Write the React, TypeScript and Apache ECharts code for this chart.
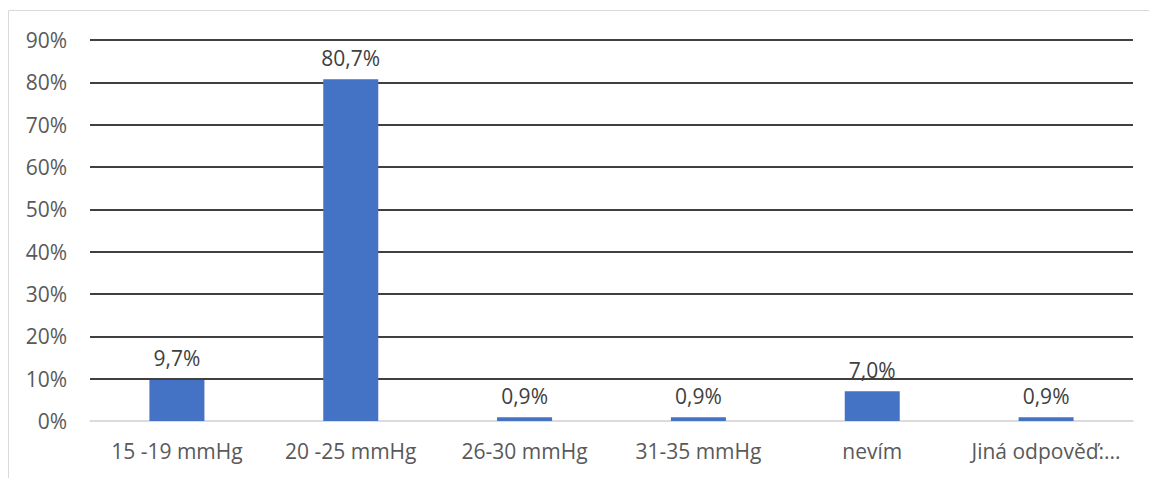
import React, { useEffect, useRef } from "react";
import * as echarts from "echarts";

// Reported pressure ranges and the share of answers for each
const categories = ["15 -19 mmHg", "20 -25 mmHg", "26-30 mmHg", "31-35 mmHg", "nevím", "Jiná odpověď:..."];
const shares = [9.7, 80.7, 0.9, 0.9, 7.0, 0.9];
const yTicks = [0, 10, 20, 30, 40, 50, 60, 70, 80, 90];

const FONT = "'Open Sans', 'Noto Sans', sans-serif";

export default function App() {
  const ref = useRef<HTMLDivElement>(null);

  useEffect(() => {
    if (!ref.current) return;
    const chart = echarts.init(ref.current, null, { renderer: "svg" });
    const W = 1149;
    const H = 478;
    chart.setOption({
      animation: false,
      backgroundColor: "#ffffff",
      textStyle: { fontFamily: FONT },
      graphic: [
        {
          type: "rect",
          shape: { x: 8.5, y: 10.5, width: W + 20, height: H + 20 },
          style: { fill: "none", stroke: "#d9d9d9", lineWidth: 1 },
          silent: true,
        },
      ],
      grid: { left: 90, right: 16, top: 40, bottom: 57, containLabel: false },
      xAxis: {
        type: "category",
        data: categories,
        axisLine: { show: true, lineStyle: { color: "#d9d9d9", width: 1.5 } },
        axisTick: { show: false },
        axisLabel: {
          color: "#595959",
          fontSize: 21,
          fontFamily: FONT,
          margin: 19,
          interval: 0,
        },
      },
      yAxis: {
        type: "value",
        min: yTicks[0],
        max: yTicks[yTicks.length - 1],
        interval: 10,
        axisLine: { show: false },
        axisTick: { show: false },
        axisLabel: {
          color: "#595959",
          fontSize: 21,
          fontFamily: FONT,
          margin: 23,
          formatter: (v: number) => `${v}%`,
        },
        splitLine: {
          show: true,
          lineStyle: {
            color: yTicks.map((t) => (t === 0 ? "#d9d9d9" : "#000000")),
            width: 1.5,
          },
        },
      },
      series: [
        {
          type: "bar",
          data: shares,
          barWidth: 55,
          itemStyle: { color: "#4472c4" },
          label: {
            show: true,
            position: "top",
            distance: 11,
            color: "#404040",
            fontSize: 21,
            fontFamily: FONT,
            formatter: (p: any) => `${Number(p.value).toFixed(1).replace(".", ",")}%`,
          },
        },
      ],
    });
    return () => chart.dispose();
  }, []);

  return (
    <div
      ref={ref}
      style={{ position: "fixed", left: 0, top: 0, width: 1149, height: 478, background: "#fff" }}
    />
  );
}
